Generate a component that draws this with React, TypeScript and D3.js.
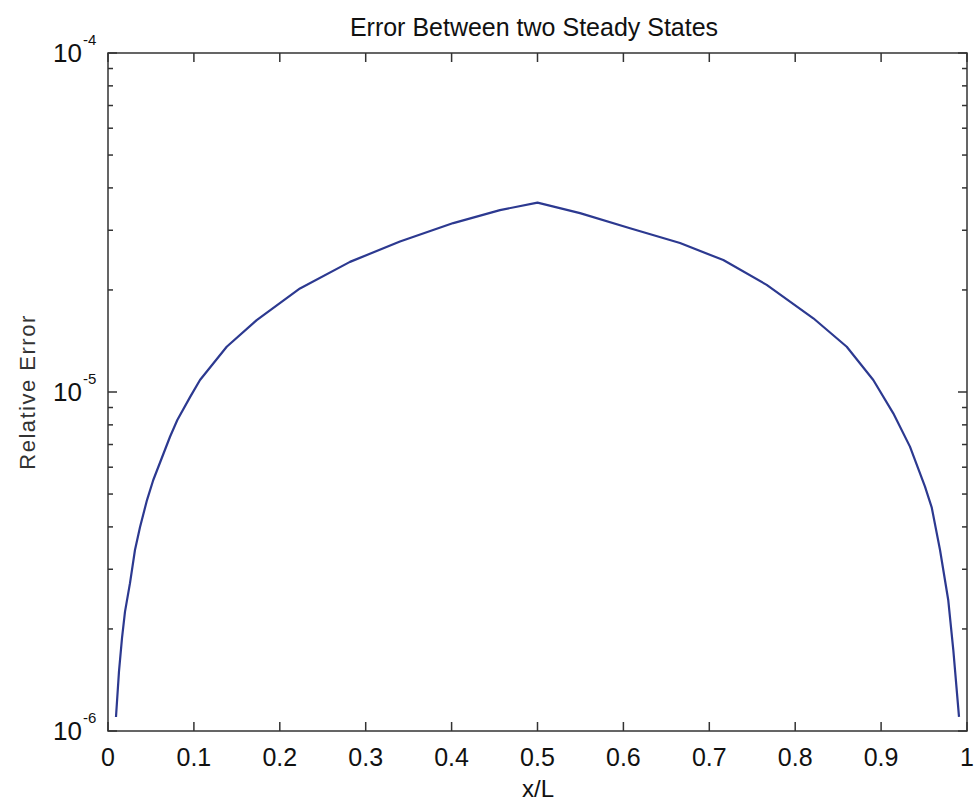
import React from "react";
import * as d3 from "d3";

const xPos = [0.0093, 0.0128, 0.0163, 0.0198, 0.0256, 0.0314, 0.0373, 0.0454, 0.0527, 0.0722, 0.0807, 0.0955, 0.1071, 0.1382, 0.1731, 0.2235, 0.2817, 0.3399, 0.402, 0.4563, 0.5, 0.5495, 0.6077, 0.6659, 0.7163, 0.7668, 0.8211, 0.86, 0.8909, 0.9142, 0.9336, 0.9511, 0.9589, 0.9686, 0.9782, 0.9841, 0.9907];
const relError = [1.1e-6, 1.5e-6, 1.88e-6, 2.25e-6, 2.73e-6, 3.42e-6, 4.0e-6, 4.8e-6, 5.5e-6, 7.38e-6, 8.27e-6, 9.66e-6, 1.085e-5, 1.36e-5, 1.63e-5, 2.02e-5, 2.42e-5, 2.78e-5, 3.15e-5, 3.44e-5, 3.62e-5, 3.37e-5, 3.04e-5, 2.75e-5, 2.45e-5, 2.07e-5, 1.65e-5, 1.36e-5, 1.085e-5, 8.65e-6, 6.9e-6, 5.26e-6, 4.57e-6, 3.42e-6, 2.43e-6, 1.73e-6, 1.1e-6];
const xTicks = [0, 0.1, 0.2, 0.3, 0.4, 0.5, 0.6, 0.7, 0.8, 0.9, 1];
const xTickLabels = ["0", "0.1", "0.2", "0.3", "0.4", "0.5", "0.6", "0.7", "0.8", "0.9", "1"];
const yMajor = [1e-6, 1e-5, 1e-4];
const yExponents = ["-6", "-5", "-4"];

const W = 975, H = 805;
const L = 108, R = 967, T = 53, B = 731;
const font = "'Liberation Sans', Arial, sans-serif";

export default function App() {
  const x = d3.scaleLinear().domain([0, 1]).range([L, R]);
  const y = d3.scaleLog().domain([1e-6, 1e-4]).range([B, T]);
  const line = d3.line<number>().x((_, i) => x(xPos[i])).y((d) => y(d));
  const minor: number[] = [];
  for (let e = -6; e < -4; e++) for (let k = 2; k <= 9; k++) minor.push(k * Math.pow(10, e));
  const axisColor = "#333";
  return (
    <svg width={W} height={H} style={{ position: "absolute", left: 0, top: 0, background: "#fff" }}>
      <rect x={0} y={0} width={W} height={H} fill="#fff" />
      <text x={534} y={36} textAnchor="middle" fontFamily={font} fontSize={25} fill="#111">
        Error Between two Steady States
      </text>
      {xTicks.map((t, i) => (
        <g key={"xt" + i}>
          <line x1={x(t)} x2={x(t)} y1={B} y2={B - 9} stroke={axisColor} strokeWidth={1.5} />
          <line x1={x(t)} x2={x(t)} y1={T} y2={T + 9} stroke={axisColor} strokeWidth={1.5} />
          <text x={x(t)} y={B + 35} textAnchor="middle" fontFamily={font} fontSize={25} fill="#111">
            {xTickLabels[i]}
          </text>
        </g>
      ))}
      {yMajor.map((v, i) => (
        <g key={"ym" + i}>
          <line x1={L} x2={L + 9} y1={y(v)} y2={y(v)} stroke={axisColor} strokeWidth={1.5} />
          <line x1={R} x2={R - 9} y1={y(v)} y2={y(v)} stroke={axisColor} strokeWidth={1.5} />
          <text x={82} y={y(v) + 9} textAnchor="end" fontFamily={font} fontSize={26} fill="#111">
            10
          </text>
          <text x={83} y={y(v) - 8} textAnchor="start" fontFamily={font} fontSize={15} fill="#111">
            {yExponents[i]}
          </text>
        </g>
      ))}
      {minor.map((v, i) => (
        <g key={"mn" + i}>
          <line x1={L} x2={L + 5} y1={y(v)} y2={y(v)} stroke={axisColor} strokeWidth={1.5} />
          <line x1={R} x2={R - 5} y1={y(v)} y2={y(v)} stroke={axisColor} strokeWidth={1.5} />
        </g>
      ))}
      <rect x={L} y={T} width={R - L} height={B - T} fill="none" stroke={axisColor} strokeWidth={1.5} />
      <path d={line(relError) || ""} fill="none" stroke="#2c3990" strokeWidth={2.2} strokeLinejoin="round" />
      <text x={538} y={797} textAnchor="middle" fontFamily={font} fontSize={24} fill="#111">
        x/L
      </text>
      <text transform={`translate(35,${(T + B) / 2}) rotate(-90)`} textAnchor="middle" fontFamily={font} fontSize={22} fill="#333" letterSpacing={1.5}>
        Relative Error
      </text>
    </svg>
  );
}
